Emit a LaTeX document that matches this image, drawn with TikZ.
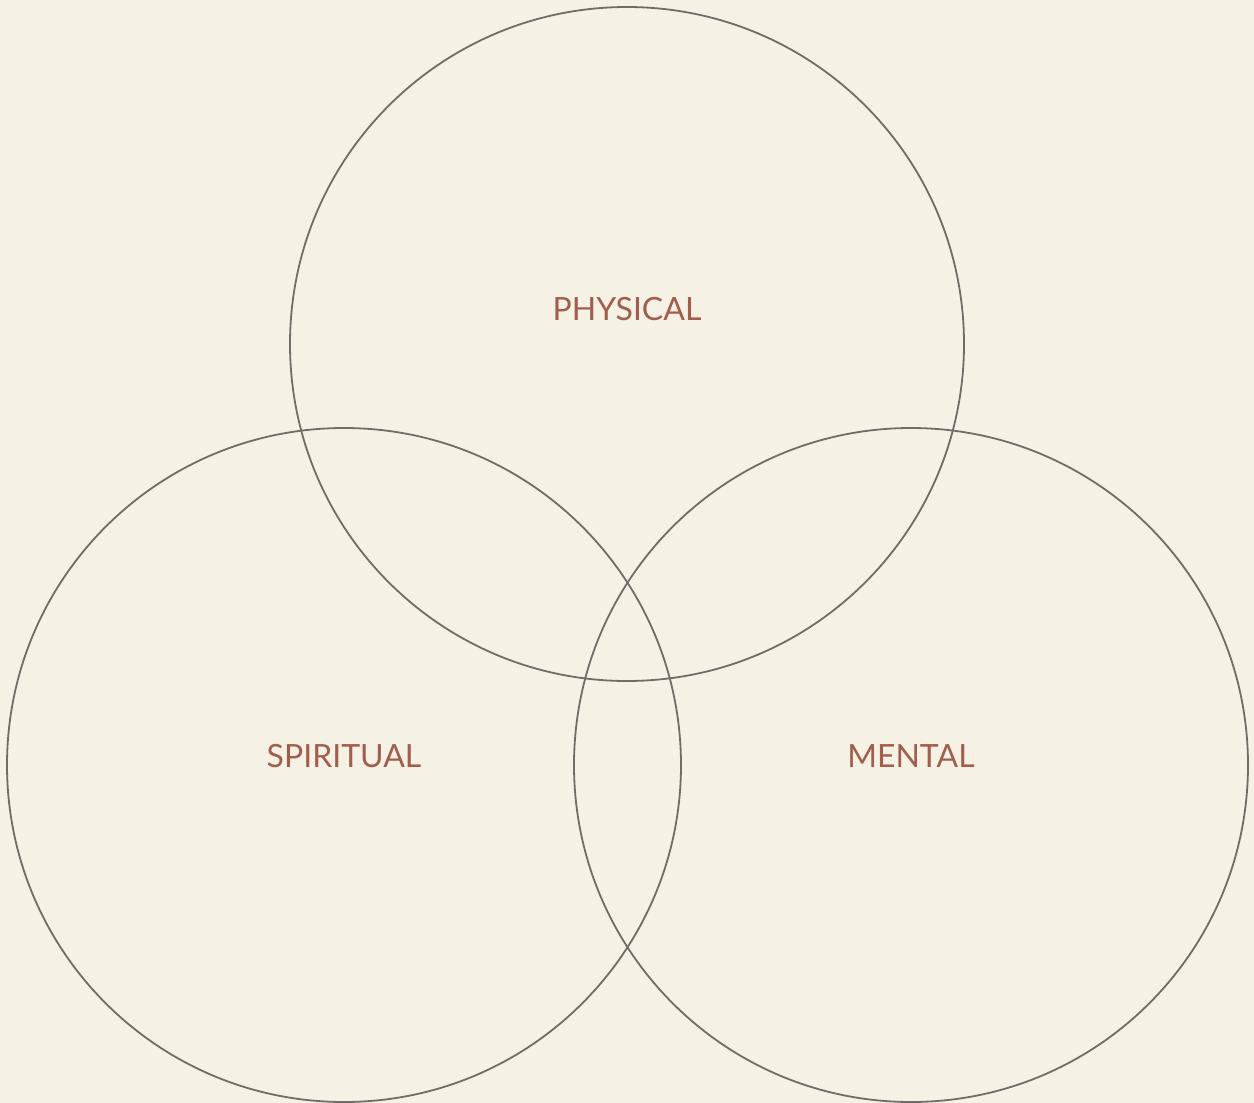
\documentclass[tikz,border=0pt]{standalone}
\usepackage{fontspec}
\setmainfont{Lato}
\definecolor{bgc}{HTML}{F5F1E5}
\definecolor{linec}{HTML}{716C68}
\definecolor{textc}{HTML}{A25E4C}
\begin{document}
\begin{tikzpicture}[x=1pt,y=-1pt,
  ring/.style={circle,draw=linec,line width=1.8pt,minimum size=674pt,inner sep=0pt},
  lbl/.style={text=textc,font=\fontsize{32}{38}\selectfont,inner sep=0pt}]
\fill[bgc] (0,0) rectangle (1254,1103);
\useasboundingbox (0,0) rectangle (1254,1103);
\node[ring] (phys) at (627,344) {};
\node[ring] (spir) at (344,765) {};
\node[ring] (ment) at (911,765) {};
\node[lbl] (tphys) at (627,309) {PHYSICAL};
\node[lbl] (tspir) at (344,756) {SPIRITUAL};
\node[lbl] (tment) at (911,756) {MENTAL};
\end{tikzpicture}
\end{document}
